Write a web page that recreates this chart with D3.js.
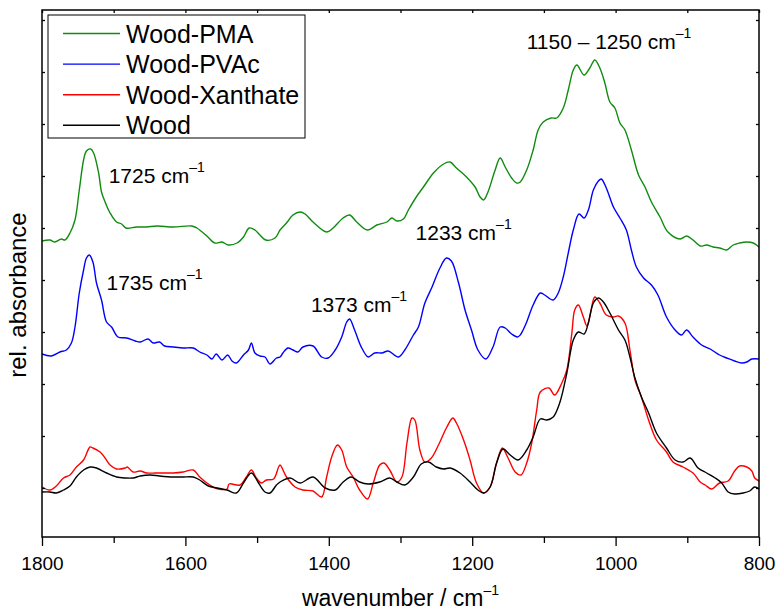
<!DOCTYPE html>
<html>
<head>
<meta charset="utf-8">
<script src="https://cdn.jsdelivr.net/npm/d3@7"></script>
<style>
  body { margin: 0; background: #fff; }
  svg { display: block; font-family: "Liberation Sans", Arial, sans-serif; }
</style>
</head>
<body>
<svg id="chart" width="777" height="611"></svg>
<script>
// FTIR spectra, offset for clarity (relative absorbance, arbitrary units)
var wnPMA = [1800,1789,1782,1773,1768,1761,1754,1748,1742,1738,1732,1728,1721,1717,1712,1705,1696,1689,1683,1668,1654,1640,1617,1591,1584,1570,1559,1549,1540,1528,1519,1511,1503,1496,1488,1475,1468,1459,1450,1440,1433,1422,1403,1394,1380,1371,1361,1346,1333,1319,1312,1305,1296,1289,1278,1268,1254,1240,1231,1222,1208,1196,1189,1184,1178,1168,1161,1154,1145,1138,1133,1124,1115,1108,1101,1090,1082,1073,1066,1059,1054,1044,1036,1029,1022,1015,1008,1001,994,987,978,968,959,950,938,927,910,901,892,882,873,864,855,845,836,827,817,808,800];
var absPMA = [299,300,298,301,300,307,320,350,380,389,391,387,367,348,338,327,318,316,312,313,313,314,313,314,312,304,297,298,295,297,303,312,310,305,300,302,310,317,325,328,326,318,308,312,322,325,318,310,315,318,322,319,321,330,343,353,367,376,378,372,363,353,343,340,348,370,382,373,362,357,358,370,390,410,418,422,422,432,450,470,475,465,472,480,472,457,438,432,417,410,390,365,353,338,323,308,301,304,300,294,295,293,292,290,295,297,298,297,293];

var wnPVAc = [1800,1787,1775,1766,1759,1754,1748,1742,1738,1734,1729,1724,1717,1710,1703,1694,1682,1670,1663,1652,1645,1636,1629,1617,1603,1589,1580,1570,1563,1557,1549,1541,1535,1529,1519,1512,1508,1503,1496,1489,1482,1473,1468,1464,1457,1450,1443,1436,1422,1410,1401,1391,1382,1375,1371,1364,1354,1345,1336,1326,1317,1303,1294,1282,1275,1266,1256,1245,1236,1229,1219,1210,1201,1192,1181,1171,1161,1154,1145,1137,1133,1129,1124,1115,1105,1099,1087,1080,1073,1066,1059,1051,1044,1038,1031,1024,1020,1013,1003,994,985,978,971,961,950,941,929,917,908,901,892,880,868,855,845,834,824,817,810,800];
var absPVAc = [186,184,188,190,197,213,247,270,282,285,278,257,240,218,213,203,202,199,198,201,197,198,194,193,192,192,188,185,181,186,180,185,179,177,185,190,197,187,184,183,176,182,183,187,192,190,188,193,194,183,182,190,203,218,221,210,192,183,187,187,189,183,190,205,213,237,253,272,282,279,257,230,210,190,181,193,213,212,206,203,205,210,218,235,247,245,240,247,263,287,310,326,322,330,350,359,361,352,333,322,310,290,273,262,255,245,223,210,205,210,203,195,191,185,182,179,177,178,181,181];

var wnXan = [1800,1789,1780,1770,1761,1752,1742,1733,1729,1719,1712,1705,1696,1684,1681,1673,1663,1654,1642,1629,1617,1603,1589,1580,1570,1561,1554,1542,1539,1524,1515,1508,1501,1494,1487,1477,1470,1468,1459,1447,1436,1422,1410,1403,1396,1388,1382,1375,1366,1357,1346,1338,1329,1323,1315,1305,1298,1291,1284,1280,1273,1266,1257,1247,1236,1227,1222,1212,1203,1194,1184,1175,1166,1158,1150,1140,1132,1124,1117,1110,1105,1093,1085,1075,1068,1061,1057,1052,1045,1040,1035,1029,1022,1013,1003,996,987,980,973,964,954,943,929,920,906,892,882,875,866,855,843,834,827,817,810,806,800];
var absXan = [53,50,54,62,65,73,80,93,92,88,82,75,71,72,73,68,69,67,67,67,67,68,70,63,57,53,51,51,56,55,63,70,62,57,60,61,73,75,63,53,50,49,43,63,83,95,90,73,63,50,41,57,75,77,70,58,63,97,122,120,90,78,82,95,112,122,117,100,80,57,47,53,77,92,82,68,65,77,97,130,148,152,145,157,170,207,230,235,223,214,227,243,237,225,223,224,217,190,160,143,120,100,88,78,73,67,58,55,51,57,59,69,74,73,69,62,59];

var wnWood = [1800,1789,1780,1770,1761,1752,1742,1733,1724,1710,1696,1684,1673,1663,1649,1636,1617,1603,1589,1580,1568,1556,1542,1529,1519,1508,1498,1489,1482,1473,1468,1454,1440,1422,1405,1391,1380,1369,1357,1345,1329,1315,1305,1294,1282,1271,1261,1250,1240,1231,1217,1203,1192,1184,1175,1166,1157,1147,1136,1124,1115,1105,1096,1087,1078,1068,1059,1052,1044,1038,1031,1024,1017,1008,996,987,980,973,964,954,943,929,917,906,896,885,873,861,852,843,834,822,813,806,800];
var absWood = [48,48,47,50,54,63,70,73,72,67,63,62,62,64,65,64,63,63,63,60,54,52,50,47,57,67,57,48,47,55,58,62,57,63,52,50,58,63,58,56,58,62,58,55,63,76,78,73,71,72,67,58,50,47,53,77,91,85,80,90,103,121,120,123,137,167,200,208,206,217,237,242,238,227,210,200,183,162,143,127,107,92,80,78,82,72,67,62,57,48,46,47,49,53,51];

var seriesNames = ["Wood-PMA", "Wood-PVAc", "Wood-Xanthate", "Wood"];
var seriesColors = ["#0f8c0f", "#0000ff", "#ff0000", "#000000"];
var xMajorTicks = [1800, 1600, 1400, 1200, 1000, 800];
var xMinorTicks = [1700, 1500, 1300, 1100, 900];
var yTicks = [52, 104, 156, 208, 260, 312, 364, 416, 468, 520];

// annotations: [wavenumber at left edge of text, value at baseline, main text]
var peakLabels = [
  [1707, 357, "1725 cm"],
  [1710, 250, "1735 cm"],
  [1425, 228, "1373 cm"],
  [1279, 300, "1233 cm"],
  [1124, 491, "1150 \u2013 1250 cm"]
];

var svg = d3.select("#chart");
var margin = {left: 42, right: 18, top: 10, bottom: 74};
var W = 777, H = 611;

var x = d3.scaleLinear().domain([1800, 800]).range([margin.left, W - margin.right]);
var y = d3.scaleLinear().domain([3, 530]).range([H - margin.bottom, margin.top]);

var line = d3.line()
  .x(function(d) { return x(d[0]); })
  .y(function(d) { return y(d[1]); })
  .curve(d3.curveCatmullRom.alpha(0.5));

var spectra = [
  d3.zip(wnPMA, absPMA),
  d3.zip(wnPVAc, absPVAc),
  d3.zip(wnXan, absXan),
  d3.zip(wnWood, absWood)
];

svg.append("g").selectAll("path")
  .data(spectra)
  .enter().append("path")
  .attr("d", line)
  .attr("fill", "none")
  .attr("stroke", function(d, i) { return seriesColors[i]; })
  .attr("stroke-width", 1.4)
  .attr("stroke-linejoin", "round");

// axes
var bottom = H - margin.bottom, right = W - margin.right;

var xAxis = svg.append("g")
  .attr("transform", "translate(0," + bottom + ")")
  .call(d3.axisBottom(x).tickValues(xMajorTicks).tickSize(9).tickPadding(11).tickFormat(d3.format("d")));
svg.append("g")
  .attr("transform", "translate(0," + bottom + ")")
  .call(d3.axisBottom(x).tickValues(xMinorTicks).tickSize(6).tickFormat(""));
svg.append("g")
  .attr("transform", "translate(0," + margin.top + ")")
  .call(d3.axisBottom(x).tickValues(xMajorTicks.concat(xMinorTicks)).tickSize(3).tickFormat(""));
svg.append("g")
  .attr("transform", "translate(" + margin.left + ",0)")
  .call(d3.axisRight(y).tickValues(yTicks).tickSize(3).tickFormat(""));
svg.append("g")
  .attr("transform", "translate(" + right + ",0)")
  .call(d3.axisLeft(y).tickValues(yTicks).tickSize(3).tickFormat(""));

svg.selectAll(".domain").remove();
svg.selectAll(".tick line").attr("stroke", "#000").attr("stroke-width", 1.3);
xAxis.selectAll("text").attr("font-size", 19).attr("fill", "#000")
  .attr("font-family", "Liberation Sans, Arial, sans-serif");

svg.append("rect")
  .attr("x", margin.left).attr("y", margin.top)
  .attr("width", right - margin.left).attr("height", bottom - margin.top)
  .attr("fill", "none").attr("stroke", "#000").attr("stroke-width", 1.5);

// axis titles
var xt = svg.append("text")
  .attr("x", (margin.left + right) / 2).attr("y", 606)
  .attr("text-anchor", "middle").attr("font-size", 23);
xt.append("tspan").text("wavenumber / cm");
xt.append("tspan").attr("dy", -11).attr("font-size", 14).text("\u20131");

svg.append("text")
  .attr("transform", "translate(26,295) rotate(-90)")
  .attr("text-anchor", "middle").attr("font-size", 24)
  .text("rel. absorbance");

// peak labels
peakLabels.forEach(function(p) {
  var t = svg.append("text")
    .attr("x", x(p[0])).attr("y", y(p[1]))
    .attr("font-size", 21);
  t.append("tspan").text(p[2]);
  t.append("tspan").attr("dy", -11).attr("font-size", 14).text("\u20131");
});

// legend
var lg = svg.append("g");
lg.append("rect")
  .attr("x", 48).attr("y", 15).attr("width", 257).attr("height", 123)
  .attr("fill", "#fff").attr("stroke", "#000").attr("stroke-width", 1);
seriesNames.forEach(function(name, i) {
  var cy = 33.5 + i * 30.6;
  lg.append("line")
    .attr("x1", 63).attr("x2", 120).attr("y1", cy).attr("y2", cy)
    .attr("stroke", seriesColors[i]).attr("stroke-width", 1.4);
  lg.append("text")
    .attr("x", 126).attr("y", cy + 9)
    .attr("font-size", 25).text(name);
});
</script>
</body>
</html>
